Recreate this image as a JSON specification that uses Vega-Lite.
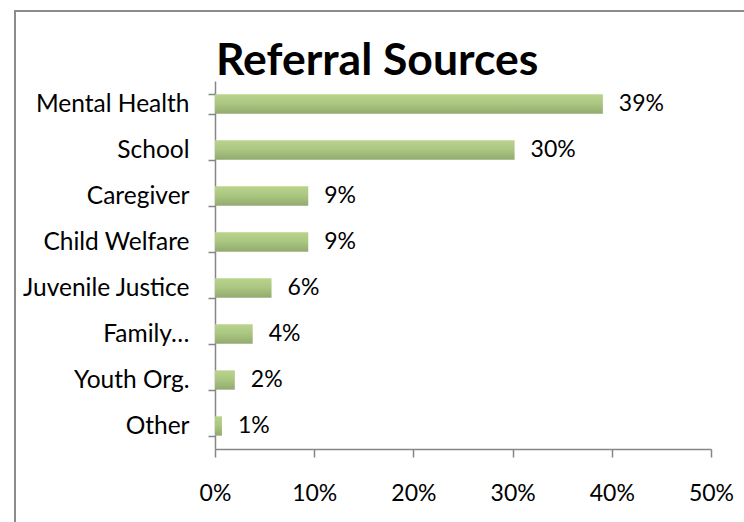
{
  "$schema": "https://vega.github.io/schema/vega-lite/v6.json",
  "width": 740,
  "height": 530,
  "autosize": "none",
  "padding": {"left": 15, "top": 11, "right": 0, "bottom": 0},
  "background": "white",
  "title": {
    "text": "Referral Sources",
    "anchor": "start",
    "frame": "group",
    "font": "Lato",
    "fontSize": 44.5,
    "fontWeight": "bold",
    "color": "#000000",
    "baseline": "alphabetic",
    "offset": 0,
    "dx": 201,
    "dy": 121
  },
  "data": {
    "values": [
      {"source": "Mental Health", "share": 0.391},
      {"source": "School", "share": 0.302},
      {"source": "Caregiver", "share": 0.094},
      {"source": "Child Welfare", "share": 0.094},
      {"source": "Juvenile Justice", "share": 0.057},
      {"source": "Family…", "share": 0.038},
      {"source": "Youth Org.", "share": 0.020},
      {"source": "Other", "share": 0.007}
    ]
  },
  "encoding": {
    "y": {
      "field": "source",
      "type": "nominal",
      "sort": null,
      "scale": {"range": [70, 438], "paddingInner": 0.58, "paddingOuter": 0.29},
      "axis": {
        "title": null,
        "offset": -200,
        "domainColor": "#868686",
        "domainWidth": 1.5,
        "tickColor": "#868686",
        "tickWidth": 1.5,
        "tickSize": 7,
        "tickBand": "extent",
        "labelPadding": 19,
        "labelFont": "Lato",
        "labelFontSize": 24.5,
        "labelColor": "#000000",
        "labelLimit": 300
      }
    },
    "x": {
      "field": "share",
      "type": "quantitative",
      "scale": {"domain": [0, 0.5], "range": [200, 696], "nice": false},
      "axis": {
        "title": null,
        "offset": -92,
        "values": [0, 0.1, 0.2, 0.3, 0.4, 0.5],
        "format": ".0%",
        "grid": false,
        "domainColor": "#868686",
        "domainWidth": 1.5,
        "tickColor": "#868686",
        "tickWidth": 1.5,
        "tickSize": 8,
        "labelPadding": 25,
        "labelFont": "Lato",
        "labelFontSize": 23,
        "labelColor": "#000000",
        "labelFlush": false
      }
    }
  },
  "layer": [
    {
      "mark": {
        "type": "bar",
        "color": {
          "gradient": "linear",
          "x1": 0, "y1": 0, "x2": 0, "y2": 1,
          "stops": [
            {"offset": 0, "color": "#b8d48d"},
            {"offset": 0.5, "color": "#aac57f"},
            {"offset": 1, "color": "#92aa70"}
          ]
        }
      }
    },
    {
      "mark": {
        "type": "text",
        "align": "left",
        "baseline": "middle",
        "dx": 16,
        "font": "Lato",
        "fontSize": 23,
        "color": "#000000"
      },
      "encoding": {
        "text": {"field": "share", "type": "quantitative", "format": ".0%"}
      }
    }
  ],
  "config": {
    "view": {"stroke": "#8c8c8c", "strokeWidth": 2}
  }
}
